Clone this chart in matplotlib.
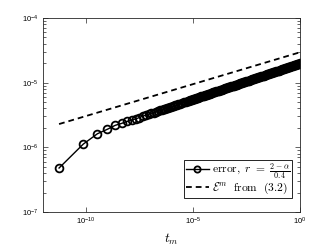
import numpy as np
import matplotlib
matplotlib.use("Agg")
import matplotlib.pyplot as plt
from matplotlib.ticker import (LogLocator, NullLocator, FixedLocator,
                               NullFormatter, LogFormatterSciNotation)

plt.rcParams['mathtext.fontset'] = 'custom'
plt.rcParams['mathtext.rm'] = 'Liberation Sans'
plt.rcParams['mathtext.it'] = 'Liberation Sans:italic'
plt.rcParams['font.family'] = ['Liberation Sans', 'DejaVu Sans']

# log10(t_m) and log10(error)
log_t = [-11.25, -10.12, -9.46, -8.99, -8.63, -8.33, -8.08, -7.86, -7.67, -7.50,
         -7.345, -7.203, -7.073, -6.952, -6.840, -6.735, -6.636, -6.543, -6.455, -6.371,
         -6.292, -6.216, -6.144, -6.074, -6.008, -5.944, -5.882, -5.823, -5.766, -5.711,
         -5.606, -5.507, -5.414, -5.326, -5.242,
         -5.20, -5.15, -5.10, -5.05, -5.00, -4.95, -4.90, -4.85, -4.80, -4.75,
         -4.70, -4.65, -4.60, -4.55, -4.50, -4.45, -4.40, -4.35, -4.30, -4.25,
         -4.20, -4.15, -4.10, -4.05, -4.00, -3.95, -3.90, -3.85, -3.80, -3.75,
         -3.70, -3.65, -3.60, -3.55, -3.50, -3.45, -3.40, -3.35, -3.30, -3.25,
         -3.20, -3.15, -3.10, -3.05, -3.00, -2.95, -2.90, -2.85, -2.80, -2.75,
         -2.70, -2.65, -2.60, -2.55, -2.50, -2.45, -2.40, -2.35, -2.30, -2.25,
         -2.20, -2.15, -2.10, -2.05, -2.00, -1.95, -1.90, -1.85, -1.80, -1.75,
         -1.70, -1.65, -1.60, -1.55, -1.50, -1.45, -1.40, -1.35, -1.30, -1.25,
         -1.20, -1.15, -1.10, -1.05, -1.00, -0.95, -0.90, -0.85, -0.80, -0.75,
         -0.70, -0.65, -0.60, -0.55, -0.50, -0.45, -0.40, -0.35, -0.30, -0.25,
         -0.20, -0.15, -0.10, -0.05, 0.00]
log_err = [-6.32, -5.95, -5.79, -5.72, -5.66, -5.63, -5.60, -5.58, -5.56, -5.54,
           -5.519, -5.503, -5.489, -5.475, -5.463, -5.451, -5.440, -5.430, -5.420, -5.410,
           -5.402, -5.393, -5.385, -5.377, -5.370, -5.363, -5.356, -5.349, -5.343, -5.337,
           -5.325, -5.314, -5.304, -5.294, -5.284,
           -5.280, -5.274, -5.269, -5.263, -5.258, -5.252, -5.246, -5.241, -5.235, -5.230,
           -5.224, -5.218, -5.213, -5.207, -5.202, -5.196, -5.191, -5.185, -5.179, -5.174,
           -5.168, -5.163, -5.157, -5.152, -5.146, -5.140, -5.135, -5.129, -5.124, -5.118,
           -5.113, -5.107, -5.101, -5.096, -5.090, -5.085, -5.079, -5.074, -5.068, -5.062,
           -5.057, -5.051, -5.046, -5.040, -5.035, -5.029, -5.023, -5.018, -5.012, -5.007,
           -5.001, -4.995, -4.990, -4.984, -4.979, -4.973, -4.968, -4.962, -4.956, -4.951,
           -4.945, -4.940, -4.934, -4.929, -4.923, -4.917, -4.912, -4.906, -4.901, -4.895,
           -4.890, -4.884, -4.878, -4.873, -4.867, -4.862, -4.856, -4.851, -4.845, -4.839,
           -4.834, -4.828, -4.823, -4.817, -4.812, -4.806, -4.800, -4.795, -4.789, -4.784,
           -4.778, -4.772, -4.767, -4.761, -4.756, -4.750, -4.745, -4.739, -4.733, -4.728,
           -4.722, -4.717, -4.711, -4.706, -4.700]

# dashed reference curve E^m (straight in log-log), endpoints
bound_log_t = [-11.25, 0.0]
bound_log_E = [-5.64, -4.53]

x_ticks = [1e-10, 1e-5, 1e0]
y_ticks = [1e-7, 1e-6, 1e-5, 1e-4]

t = 10.0 ** np.array(log_t)
err = 10.0 ** np.array(log_err)
bt = 10.0 ** np.array(bound_log_t)
bE = 10.0 ** np.array(bound_log_E)

fig = plt.figure(figsize=(3.32, 2.49), dpi=100)
ax = fig.add_axes([43/332, 37/249, 257/332, 194/249])

ax.loglog(t, err, '-o', color='black', lw=1.0, ms=5.6, mew=1.3,
          mfc='none', label=r'$\mathrm{error},\ r\ =\ \frac{2-\alpha}{0.4}$')
ax.loglog(bt, bE, '--', color='black', lw=1.3, dashes=(3.2, 2.2),
          label=r'$\mathcal{E}^m\ \ \mathrm{from}\ \ (3.2)$')

ax.set_xlim(1e-12, 1e0)
ax.set_ylim(1e-7, 1e-4)
ax.xaxis.set_major_locator(FixedLocator(x_ticks))
ax.xaxis.set_minor_locator(NullLocator())
ax.yaxis.set_major_locator(FixedLocator(y_ticks))
ax.yaxis.set_minor_locator(LogLocator(base=10, subs=np.arange(2, 10)))
ax.xaxis.set_major_formatter(LogFormatterSciNotation())
ax.yaxis.set_major_formatter(LogFormatterSciNotation())
ax.yaxis.set_minor_formatter(NullFormatter())

axcol = '#262626'
for s in ax.spines.values():
    s.set_linewidth(0.6)
    s.set_color(axcol)
ax.tick_params(which='both', direction='in', top=True, right=True,
               colors=axcol, labelcolor='black', labelsize=5.5, width=0.5)
ax.tick_params(which='major', length=3.5, pad=3)
ax.tick_params(which='minor', length=2)

xl = ax.set_xlabel(r'$t_m$', fontsize=9.5, labelpad=3)
xl.set_math_fontfamily('cm')

leg = ax.legend(loc='lower right', bbox_to_anchor=(0.969, 0.072), borderaxespad=0,
                fancybox=False, framealpha=1, edgecolor='black', fontsize=8.3,
                handlelength=2.0, handletextpad=0.3, borderpad=0.15,
                labelspacing=0.0, markerscale=0.8)
leg.get_frame().set_linewidth(0.6)
for txt in leg.get_texts():
    txt.set_math_fontfamily('cm')

fig.savefig('out.png', dpi=100)
